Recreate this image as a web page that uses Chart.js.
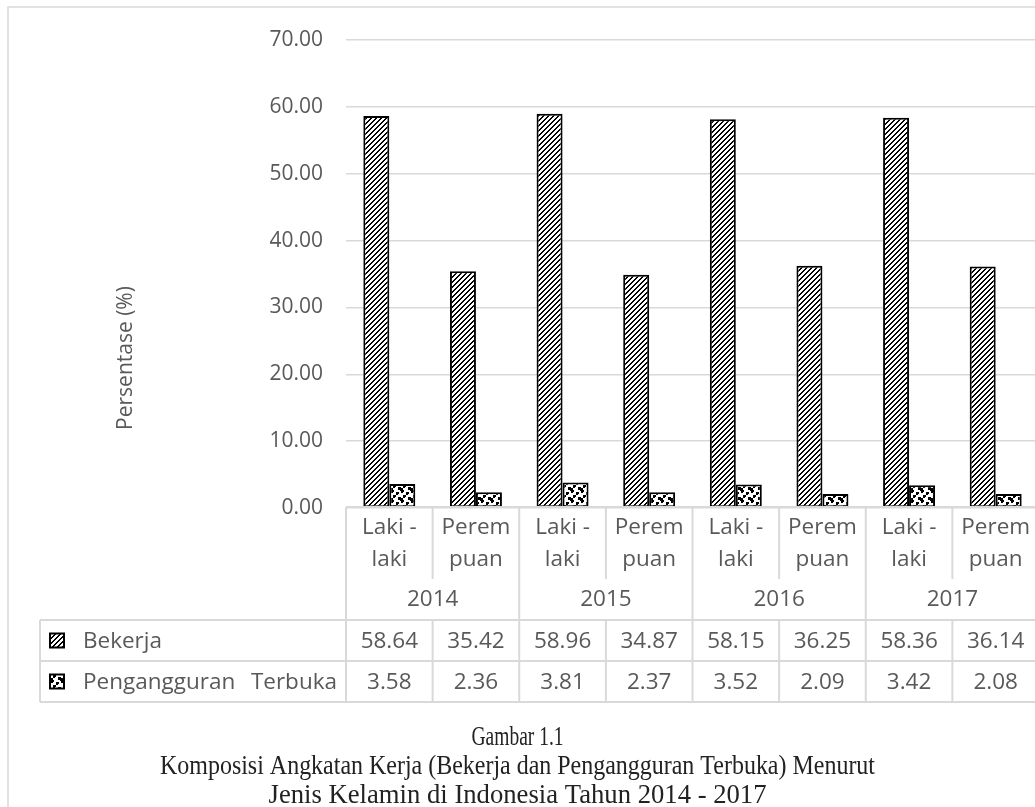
<!DOCTYPE html>
<html>
<head>
<meta charset="utf-8">
<script src="https://cdn.jsdelivr.net/npm/chart.js@4.4.1/dist/chart.umd.min.js"></script>
<style>
  html, body { margin: 0; padding: 0; background: #ffffff; overflow: hidden; }
  #wrap { width: 1035px; height: 807px; overflow: hidden; position: relative; }
  canvas { display: block; }
</style>
</head>
<body>
<div id="wrap"><canvas id="c" width="1050" height="807"></canvas></div>
<script>
// ---- data ----
const years = ['2014', '2015', '2016', '2017'];
const genders = ['Laki - laki', 'Perempuan'];
const genderLines = [['Laki -', 'laki'], ['Perem', 'puan']];
const seriesNames = ['Bekerja', 'Pengangguran Terbuka'];
const bekerja = [58.64, 35.42, 58.96, 34.87, 58.15, 36.25, 58.36, 36.14];
const pengangguran = [3.58, 2.36, 3.81, 2.37, 3.52, 2.09, 3.42, 2.08];
const yMin = 0, yMax = 70, yStep = 10;
const axisTitle = 'Persentase (%)';
const captionLines = [
  'Gambar 1.1',
  'Komposisi Angkatan Kerja (Bekerja dan Pengangguran Terbuka) Menurut',
  'Jenis Kelamin di Indonesia Tahun 2014 - 2017'
];

const categories = years.flatMap(y => genders.map(g => g + ' ' + y));

// ---- fill patterns ----
function tile(n, paint) {
  const c = document.createElement('canvas');
  c.width = n; c.height = n;
  const g = c.getContext('2d');
  g.fillStyle = '#ffffff';
  g.fillRect(0, 0, n, n);
  g.fillStyle = '#000000';
  paint(g, n);
  return g.createPattern(c, 'repeat');
}
// upward diagonal hatch
const hatch = tile(5, (g, n) => {
  const bits = ['00011', '00110', '01100', '11000', '10001'];
  bits.forEach((row, y) => { for (let x = 0; x < n; x++) if (row[x] === '1') g.fillRect(x, y, 1, 1); });
});
// large confetti
const confetti = tile(10, (g, n) => {
  const squares = [[1, 0], [6, 2], [3, 5], [8, 7], [0, 8]];
  squares.forEach(([sx, sy]) => {
    for (let dx = 0; dx < 3; dx++) for (let dy = 0; dy < 3; dy++) {
      if ((dx === 2 && dy === 2)) continue;
      g.fillRect((sx + dx) % n, (sy + dy) % n, 1, 1);
    }
  });
});
const patterns = [hatch, confetti];

const GRID = '#d9d9d9';
const TEXT = '#595959';
const FONT = "'Open Sans', 'DejaVu Sans', sans-serif";

// table geometry (relative to the bottom of the plot area)
const labelRowH = 72, yearRowH = 41, dataRowH = 41;
const tableLeft = 40;

const decorations = {
  id: 'decorations',
  beforeDraw(chart) {
    const ctx = chart.ctx;
    ctx.save();
    ctx.fillStyle = '#ffffff';
    ctx.fillRect(0, 0, chart.width, chart.height);
    // outer frame
    ctx.strokeStyle = GRID;
    ctx.lineWidth = 1.5;
    ctx.strokeRect(8, 7, chart.width + 50, chart.height + 50);
    ctx.restore();
  },
  afterDraw(chart) {
    const ctx = chart.ctx;
    const area = chart.chartArea;
    const xs = chart.scales.x;
    const colW = xs.getPixelForValue(1) - xs.getPixelForValue(0);
    const L = area.left, R = L + colW * categories.length;
    const t0 = area.bottom - 1;
    const t1 = t0 + labelRowH;
    const t2 = t1 + yearRowH;
    const t3 = t2 + dataRowH;
    const t4 = t3 + dataRowH;

    ctx.save();
    // axis title
    ctx.fillStyle = TEXT;
    ctx.font = '21px ' + FONT;
    ctx.textAlign = 'center';
    ctx.textBaseline = 'middle';
    ctx.translate(126, 358);
    ctx.rotate(-Math.PI / 2);
    ctx.fillText(axisTitle, 0, 0);
    ctx.restore();

    ctx.save();
    ctx.strokeStyle = GRID;
    ctx.lineWidth = 2;
    const line = (x1, y1, x2, y2) => { ctx.beginPath(); ctx.moveTo(x1, y1); ctx.lineTo(x2, y2); ctx.stroke(); };
    line(L, t0, R, t0);
    line(tableLeft, t2, R, t2);
    line(tableLeft, t3, R, t3);
    line(tableLeft, t4, R, t4);
    line(tableLeft, t2, tableLeft, t4);
    for (let i = 0; i <= categories.length; i++) {
      const x = L + colW * i;
      if (i % 2 === 0) {
        line(x, t0, x, t4);
      } else {
        line(x, t0, x, t1);
        line(x, t2, x, t4);
      }
    }

    // header text
    ctx.fillStyle = TEXT;
    ctx.font = '22.5px ' + FONT;
    ctx.textAlign = 'center';
    ctx.textBaseline = 'middle';
    categories.forEach((c, i) => {
      const cx = xs.getPixelForValue(i);
      const lines = genderLines[i % 2];
      ctx.fillText(lines[0], cx, t0 + 21);
      ctx.fillText(lines[1], cx, t0 + 53);
    });
    years.forEach((y, j) => {
      const cx = L + colW * (2 * j + 1);
      ctx.fillText(y, cx, (t1 + t2) / 2);
    });

    // data rows
    const rows = [bekerja, pengangguran];
    const rowY = [(t2 + t3) / 2, (t3 + t4) / 2];
    rows.forEach((vals, r) => {
      vals.forEach((v, i) => {
        ctx.fillText(v.toFixed(2), xs.getPixelForValue(i), rowY[r] + 1);
      });
    });

    // legend keys and series names
    ctx.textAlign = 'left';
    seriesNames.forEach((name, r) => {
      const ky = rowY[r] - 7;
      ctx.fillStyle = patterns[r];
      ctx.fillRect(50, ky, 14, 14);
      ctx.strokeStyle = '#000000';
      ctx.lineWidth = 2;
      ctx.strokeRect(50, ky, 14, 14);
      ctx.fillStyle = TEXT;
      const words = name.split(' ');
      if (words.length > 1) {
        ctx.fillText(words[0], 83, rowY[r] + 1);
        ctx.textAlign = 'right';
        ctx.fillText(words.slice(1).join(' '), 337, rowY[r] + 1);
        ctx.textAlign = 'left';
      } else {
        ctx.fillText(name, 83, rowY[r] + 1);
      }
    });
    ctx.restore();

    // caption (condensed serif, each line fitted to its width)
    ctx.save();
    ctx.fillStyle = '#222222';
    ctx.font = "27px 'Liberation Serif', 'Times New Roman', serif";
    ctx.textBaseline = 'middle';
    ctx.textAlign = 'center';
    const widths = [92, 715, 498];
    const cy = [738, 767, 796];
    captionLines.forEach((txt, i) => {
      const s = widths[i] / ctx.measureText(txt).width;
      ctx.save();
      ctx.translate(517.5, cy[i]);
      ctx.scale(s, 1);
      ctx.fillText(txt, 0, 0);
      ctx.restore();
    });
    ctx.restore();
  }
};

new Chart(document.getElementById('c'), {
  type: 'bar',
  data: {
    labels: categories,
    datasets: [
      {
        label: seriesNames[0],
        data: bekerja,
        backgroundColor: hatch,
        borderColor: '#000000',
        borderWidth: 2,
        borderSkipped: false,
        inflateAmount: 0
      },
      {
        label: seriesNames[1],
        data: pengangguran,
        backgroundColor: confetti,
        borderColor: '#000000',
        borderWidth: 2,
        borderSkipped: false,
        inflateAmount: 0
      }
    ]
  },
  options: {
    responsive: false,
    animation: false,
    devicePixelRatio: 1,
    layout: { padding: { left: 0, top: 40, right: 11, bottom: 299 } },
    datasets: { bar: { categoryPercentage: 0.6, barPercentage: 1.0 } },
    plugins: {
      legend: { display: false },
      tooltip: { enabled: false },
      title: { display: false }
    },
    scales: {
      x: { display: false },
      y: {
        min: yMin,
        max: yMax,
        afterFit(scale) { scale.width = 346; },
        border: { display: false },
        grid: { color: GRID, lineWidth: 1.5, drawTicks: false },
        ticks: {
          stepSize: yStep,
          padding: 23,
          color: TEXT,
          font: { family: FONT, size: 21 },
          callback: v => Number(v).toFixed(2)
        }
      }
    }
  },
  plugins: [decorations]
});
</script>
</body>
</html>
